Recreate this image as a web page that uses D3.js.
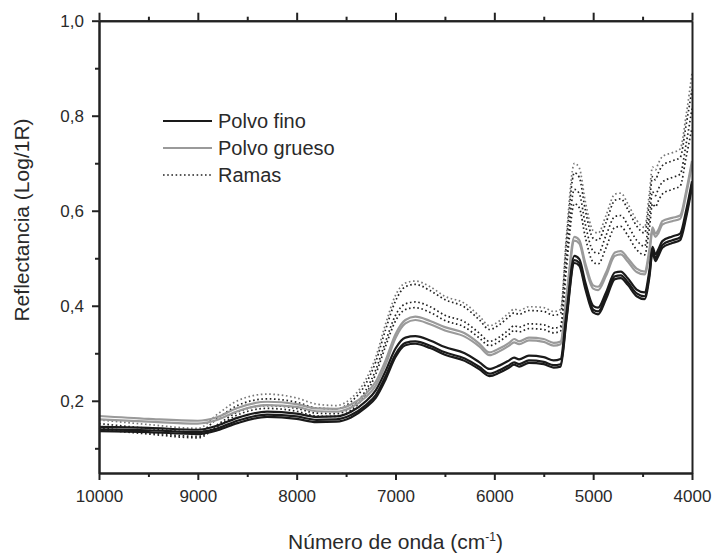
<!DOCTYPE html>
<html>
<head>
<meta charset="utf-8">
<script src="https://cdn.jsdelivr.net/npm/d3@7"></script>
<style>
  body { margin: 0; background: #fff; }
  svg { display: block; font-family: "Liberation Sans", Arial, sans-serif; }
</style>
</head>
<body>
<svg width="713" height="554"></svg>
<script>
// wavenumbers (cm-1), shared by all spectra
const wavenumbers = [10000, 9500, 9000, 8800, 8600, 8300, 8000, 7800, 7600, 7450,
  7300, 7200, 7100, 7000, 6900, 6800, 6650, 6500, 6300, 6150,
  6050, 5950, 5850, 5800, 5750, 5650, 5500, 5400, 5330, 5270,
  5190, 5140, 5080, 5000, 4950, 4870, 4780, 4720, 4650, 4560,
  4480, 4430, 4400, 4370, 4340, 4300, 4200, 4120, 4060, 4000];

// Polvo fino
const fino1 = [0.136, 0.134, 0.130, 0.138, 0.153, 0.166, 0.162, 0.155, 0.156, 0.165,
  0.186, 0.206, 0.245, 0.292, 0.317, 0.320, 0.311, 0.297, 0.284, 0.266,
  0.252, 0.259, 0.270, 0.276, 0.272, 0.280, 0.277, 0.270, 0.272, 0.370,
  0.490, 0.484, 0.436, 0.386, 0.382, 0.414, 0.456, 0.458, 0.444, 0.420,
  0.414, 0.462, 0.512, 0.494, 0.505, 0.522, 0.532, 0.538, 0.585, 0.650];
const fino2 = [0.140, 0.138, 0.134, 0.142, 0.158, 0.171, 0.167, 0.160, 0.161, 0.170,
  0.191, 0.212, 0.252, 0.298, 0.322, 0.325, 0.316, 0.302, 0.289, 0.271,
  0.257, 0.264, 0.275, 0.281, 0.277, 0.285, 0.282, 0.275, 0.277, 0.375,
  0.496, 0.490, 0.442, 0.392, 0.388, 0.420, 0.462, 0.464, 0.450, 0.426,
  0.420, 0.468, 0.518, 0.500, 0.511, 0.528, 0.538, 0.544, 0.592, 0.656];
const fino3 = [0.145, 0.143, 0.139, 0.148, 0.164, 0.177, 0.173, 0.166, 0.167, 0.177,
  0.199, 0.222, 0.263, 0.310, 0.333, 0.336, 0.327, 0.313, 0.300, 0.281,
  0.267, 0.274, 0.285, 0.291, 0.287, 0.295, 0.292, 0.285, 0.288, 0.385,
  0.505, 0.498, 0.450, 0.400, 0.396, 0.428, 0.470, 0.472, 0.458, 0.434,
  0.428, 0.476, 0.524, 0.508, 0.519, 0.536, 0.546, 0.552, 0.600, 0.662];

// Polvo grueso
const grueso1 = [0.168, 0.162, 0.158, 0.166, 0.185, 0.198, 0.193, 0.184, 0.183, 0.192,
  0.215, 0.240, 0.285, 0.340, 0.370, 0.377, 0.368, 0.355, 0.342, 0.320,
  0.302, 0.310, 0.322, 0.330, 0.325, 0.333, 0.330, 0.322, 0.325, 0.420,
  0.545, 0.538, 0.490, 0.443, 0.440, 0.470, 0.512, 0.515, 0.500, 0.478,
  0.472, 0.520, 0.565, 0.552, 0.560, 0.578, 0.585, 0.590, 0.640, 0.705];
const grueso2 = [0.161, 0.156, 0.152, 0.160, 0.178, 0.191, 0.187, 0.178, 0.177, 0.186,
  0.208, 0.232, 0.276, 0.332, 0.363, 0.370, 0.361, 0.348, 0.335, 0.314,
  0.296, 0.304, 0.316, 0.323, 0.319, 0.327, 0.324, 0.316, 0.319, 0.412,
  0.537, 0.531, 0.483, 0.436, 0.433, 0.463, 0.505, 0.508, 0.493, 0.471,
  0.466, 0.512, 0.557, 0.545, 0.553, 0.571, 0.578, 0.583, 0.633, 0.698];

// Ramas
const ramas1 = [0.160, 0.150, 0.142, 0.172, 0.200, 0.214, 0.206, 0.193, 0.190, 0.205,
  0.245, 0.292, 0.362, 0.422, 0.448, 0.452, 0.440, 0.420, 0.405, 0.378,
  0.358, 0.368, 0.385, 0.393, 0.390, 0.398, 0.396, 0.388, 0.392, 0.550,
  0.700, 0.690, 0.620, 0.558, 0.553, 0.590, 0.635, 0.637, 0.615, 0.580,
  0.565, 0.640, 0.692, 0.686, 0.700, 0.714, 0.722, 0.730, 0.800, 0.890];
const ramas2 = [0.152, 0.142, 0.134, 0.163, 0.190, 0.204, 0.197, 0.185, 0.183, 0.198,
  0.236, 0.282, 0.350, 0.410, 0.440, 0.445, 0.432, 0.413, 0.397, 0.370,
  0.350, 0.360, 0.377, 0.385, 0.382, 0.390, 0.388, 0.380, 0.384, 0.535,
  0.680, 0.670, 0.602, 0.542, 0.538, 0.575, 0.622, 0.625, 0.603, 0.568,
  0.553, 0.620, 0.672, 0.665, 0.680, 0.695, 0.705, 0.712, 0.780, 0.855];
const ramas3 = [0.143, 0.133, 0.125, 0.150, 0.176, 0.190, 0.184, 0.174, 0.173, 0.186,
  0.222, 0.265, 0.325, 0.380, 0.404, 0.408, 0.398, 0.380, 0.366, 0.342,
  0.325, 0.334, 0.350, 0.358, 0.355, 0.362, 0.360, 0.353, 0.357, 0.500,
  0.645, 0.636, 0.572, 0.515, 0.510, 0.548, 0.588, 0.590, 0.570, 0.538,
  0.525, 0.590, 0.640, 0.632, 0.646, 0.660, 0.670, 0.677, 0.740, 0.815];
const ramas4 = [0.140, 0.130, 0.122, 0.146, 0.170, 0.184, 0.178, 0.168, 0.167, 0.180,
  0.214, 0.256, 0.315, 0.368, 0.392, 0.396, 0.386, 0.369, 0.355, 0.332,
  0.316, 0.325, 0.340, 0.348, 0.345, 0.352, 0.350, 0.343, 0.347, 0.480,
  0.615, 0.606, 0.545, 0.492, 0.488, 0.522, 0.565, 0.567, 0.548, 0.518,
  0.507, 0.565, 0.615, 0.608, 0.621, 0.635, 0.645, 0.652, 0.712, 0.775];

const legendLabels = ["Polvo fino", "Polvo grueso", "Ramas"];
const xTicks = [10000, 9000, 8000, 7000, 6000, 5000, 4000];
const xMinor = [9500, 8500, 7500, 6500, 5500, 4500];
const yTicks = [0.2, 0.4, 0.6, 0.8, 1.0];
const yMinor = [0.1, 0.3, 0.5, 0.7, 0.9];

const series = [
  { values: ramas3, group: 2, color: "#222" },
  { values: ramas4, group: 2, color: "#222" },
  { values: ramas2, group: 2, color: "#222" },
  { values: ramas1, group: 2, color: "#777" },
  { values: grueso2, group: 1, color: "#9a9a9a" },
  { values: grueso1, group: 1, color: "#9a9a9a" },
  { values: fino3, group: 0, color: "#1a1a1a" },
  { values: fino2, group: 0, color: "#1a1a1a" },
  { values: fino1, group: 0, color: "#1a1a1a" },
];

const width = 713;
const height = 554;
const margin = { top: 20.7, right: 21, bottom: 81, left: 99 };

const x = d3.scaleLinear().domain([10000, 4000]).range([margin.left, width - margin.right]);
const y = d3.scaleLinear().domain([0.048, 1.0]).range([height - margin.bottom, margin.top]);

const comma = d3.formatLocale({ decimal: ",", thousands: ".", grouping: [3], currency: ["", ""] }).format(".1f");

const svg = d3.select("svg");
const axisColor = "#222";
const textColor = "#2a2a2a";

// spectra
const line = d3.line()
  .x((d) => x(d[0]))
  .y((d) => y(d[1]))
  .curve(d3.curveMonotoneX);

svg.append("g")
  .selectAll("path")
  .data(series)
  .join("path")
  .attr("fill", "none")
  .attr("stroke", (d) => d.color)
  .attr("stroke-width", (d) => (d.group === 2 ? 1.7 : 2.2))
  .attr("stroke-dasharray", (d) => (d.group === 2 ? "1.6,2.6" : null))
  .attr("d", (d) => line(wavenumbers.map((w, i) => [w, d.values[i]])));

// axes
function styleAxis(g) {
  g.select(".domain").attr("stroke", axisColor).attr("stroke-width", 2);
  g.selectAll(".tick line").attr("stroke", axisColor).attr("stroke-width", 2);
  g.selectAll("text").attr("fill", textColor).attr("font-size", 17);
}

svg.append("g")
  .attr("transform", `translate(0,${height - margin.bottom})`)
  .call(d3.axisBottom(x).tickValues(xTicks).tickFormat(d3.format("d")).tickSize(7).tickPadding(10).tickSizeOuter(0))
  .call(styleAxis);
svg.append("g")
  .attr("transform", `translate(0,${height - margin.bottom})`)
  .call(d3.axisBottom(x).tickValues(xMinor).tickFormat("").tickSize(4).tickSizeOuter(0))
  .call(styleAxis);

svg.append("g")
  .attr("transform", `translate(0,${margin.top})`)
  .call(d3.axisTop(x).tickValues(xTicks).tickFormat("").tickSize(8).tickSizeOuter(0))
  .call(styleAxis);
svg.append("g")
  .attr("transform", `translate(0,${margin.top})`)
  .call(d3.axisTop(x).tickValues(xMinor).tickFormat("").tickSize(4).tickSizeOuter(0))
  .call(styleAxis);

svg.append("g")
  .attr("transform", `translate(${margin.left},0)`)
  .call(d3.axisLeft(y).tickValues(yTicks).tickFormat(comma).tickSize(7).tickPadding(8).tickSizeOuter(0))
  .call(styleAxis);
svg.append("g")
  .attr("transform", `translate(${margin.left},0)`)
  .call(d3.axisLeft(y).tickValues(yMinor).tickFormat("").tickSize(4).tickSizeOuter(0))
  .call(styleAxis);

svg.append("g")
  .attr("transform", `translate(${width - margin.right},0)`)
  .call(d3.axisRight(y).tickValues([]).tickSizeOuter(0))
  .call(styleAxis);

// axis titles
const xTitle = svg.append("text")
  .attr("x", (margin.left + width - margin.right) / 2)
  .attr("y", 549)
  .attr("text-anchor", "middle")
  .attr("font-size", 21)
  .attr("fill", textColor);
xTitle.append("tspan").text("Número de onda (cm");
xTitle.append("tspan").attr("dy", -8).attr("font-size", 12).text("-1");
xTitle.append("tspan").attr("dy", 8).text(")");

svg.append("text")
  .attr("transform", `translate(29,220) rotate(-90)`)
  .attr("text-anchor", "middle")
  .attr("font-size", 21)
  .attr("fill", textColor)
  .text("Reflectancia (Log/1R)");

// legend
const legendStyles = [
  { color: "#1a1a1a", dash: null, width: 2.2 },
  { color: "#9a9a9a", dash: null, width: 2.2 },
  { color: "#222", dash: "1.6,2.6", width: 1.7 },
];
const legend = svg.append("g")
  .selectAll("g")
  .data(legendLabels)
  .join("g")
  .attr("transform", (d, i) => `translate(163,${121 + i * 27})`);
legend.append("line")
  .attr("x1", 0).attr("x2", 49)
  .attr("stroke", (d, i) => legendStyles[i].color)
  .attr("stroke-width", (d, i) => legendStyles[i].width)
  .attr("stroke-dasharray", (d, i) => legendStyles[i].dash);
legend.append("text")
  .attr("x", 55)
  .attr("dy", "0.35em")
  .attr("font-size", 20)
  .attr("fill", textColor)
  .text((d) => d);
</script>
</body>
</html>
